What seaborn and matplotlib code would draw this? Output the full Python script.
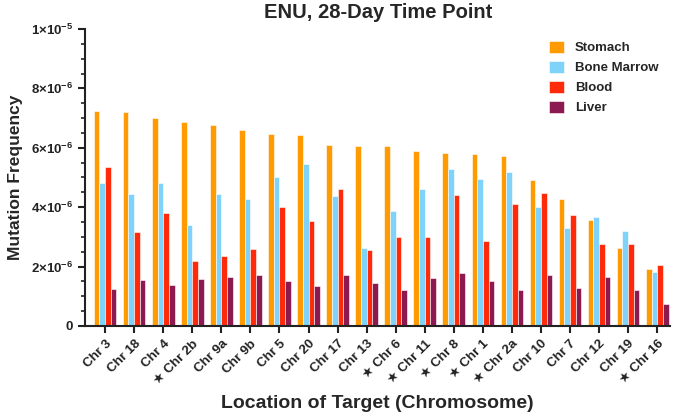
import numpy as np
import pandas as pd
import seaborn as sns
import matplotlib.pyplot as plt
from matplotlib.ticker import MultipleLocator, FuncFormatter

chromosomes = ["Chr 3", "Chr 18", "Chr 4", "★ Chr 2b", "Chr 9a", "Chr 9b", "Chr 5",
               "Chr 20", "Chr 17", "Chr 13", "★ Chr 6", "★ Chr 11", "★ Chr 8",
               "★ Chr 1", "★ Chr 2a", "Chr 10", "Chr 7", "Chr 12", "Chr 19", "★ Chr 16"]
# values in units of 1e-6
stomach = [7.25, 7.2, 7.0, 6.88, 6.75, 6.6, 6.48, 6.43, 6.08, 6.07,
           6.05, 5.9, 5.83, 5.8, 5.72, 4.9, 4.27, 3.57, 2.63, 1.93]
bone_marrow = [4.8, 4.45, 4.8, 3.4, 4.45, 4.28, 5.02, 5.45, 4.38, 2.62,
               3.87, 4.6, 5.27, 4.95, 5.17, 4.0, 3.3, 3.68, 3.2, 1.83]
blood = [5.35, 3.15, 3.8, 2.2, 2.35, 2.6, 4.02, 3.55, 4.6, 2.57,
         3.0, 2.98, 4.42, 2.87, 4.1, 4.47, 3.75, 2.75, 2.75, 2.05]
liver = [1.25, 1.55, 1.38, 1.58, 1.65, 1.7, 1.5, 1.36, 1.7, 1.45,
         1.2, 1.62, 1.78, 1.5, 1.2, 1.7, 1.28, 1.65, 1.2, 0.75]

tissues = ["Stomach", "Bone Marrow", "Blood", "Liver"]
colors = ["#FF9A00", "#7FD3FA", "#FF2A0A", "#8C1A50"]

rows = []
for tissue, vals in zip(tissues, [stomach, bone_marrow, blood, liver]):
    for chrom, v in zip(chromosomes, vals):
        rows.append({"chrom": chrom, "tissue": tissue, "freq": v * 1e-6})
df = pd.DataFrame(rows)

sns.set_style("ticks")
plt.rcParams["font.family"] = ["Liberation Sans", "DejaVu Sans"]
plt.rcParams["font.weight"] = "bold"
plt.rcParams["mathtext.fontset"] = "custom"
plt.rcParams["mathtext.rm"] = "Liberation Sans:bold"
plt.rcParams["mathtext.bf"] = "Liberation Sans:bold"
plt.rcParams["mathtext.it"] = "Liberation Sans:bold"

fig = plt.figure(figsize=(6.75, 4.2), dpi=100)
ax = fig.add_axes([0.126, 0.224, 0.867, 0.707])

sns.barplot(data=df, x="chrom", y="freq", hue="tissue", hue_order=tissues,
            palette=colors, width=0.78, saturation=1, ax=ax,
            edgecolor="white", linewidth=0.4)

ax.set_xlim(-0.69, 19.45)
ax.set_ylim(0, 1e-5)
ax.yaxis.set_major_locator(MultipleLocator(2e-6))
ax.yaxis.set_minor_locator(MultipleLocator(0.5e-6))


def fmt(v, pos):
    if v < 1e-12:
        return "0" if abs(v) < 1e-12 else ""
    exp = int(np.floor(np.log10(v) + 1e-9))
    m = v / 10 ** exp
    return f"{m:.0f}×10$^{{{exp}}}$"


ax.yaxis.set_major_formatter(FuncFormatter(fmt))
ax.tick_params(axis="y", which="major", length=5, width=1.5, labelsize=9.5, colors="#222222")
ax.tick_params(axis="y", which="minor", length=3, width=1.2, colors="#222222")
ax.tick_params(axis="x", length=5, width=1.5, labelsize=9.5, colors="#222222")
for lab in ax.get_xticklabels():
    lab.set_rotation(45)
    lab.set_ha("right")
    lab.set_rotation_mode("anchor")
    lab.set_fontweight("bold")
for lab in ax.get_yticklabels():
    lab.set_fontweight("bold")

sns.despine(ax=ax)
for s in ["left", "bottom"]:
    ax.spines[s].set_linewidth(1.5)
    ax.spines[s].set_color("#222222")

ax.set_xlabel("Location of Target (Chromosome)", fontsize=14, fontweight="bold", labelpad=6)
ax.set_ylabel("Mutation Frequency", fontsize=12.5, fontweight="bold", labelpad=6)
ax.set_title("ENU, 28-Day Time Point", fontsize=14.5, fontweight="bold", pad=8)

ax.legend(title=None, frameon=False, loc="upper right", bbox_to_anchor=(1.0, 1.0),
          prop={"weight": "bold", "size": 9.5}, handlelength=1.2, handleheight=1.0,
          labelspacing=0.5, handletextpad=0.8)

fig.savefig("out.png", dpi=100)
